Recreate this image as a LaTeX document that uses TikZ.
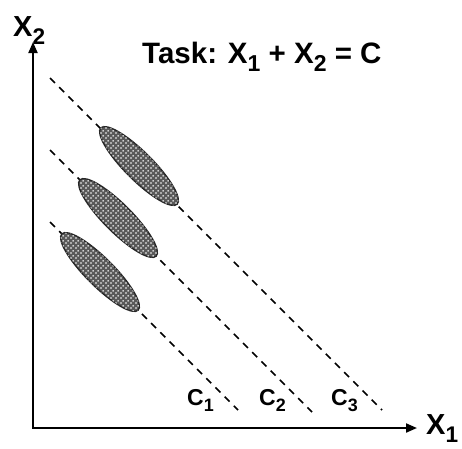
\documentclass[tikz,border=0pt]{standalone}
\usepackage{fontspec}
\setmainfont{Liberation Sans}
\usetikzlibrary{arrows.meta,patterns.meta}
\newcommand{\lowsub}[1]{\raisebox{-.3em}{\scalebox{.78}{#1}}}
\tikzdeclarepattern{name=holes,type=uncolored,
  bounding box={(0pt,0pt) and (5pt,5pt)},tile size={(5pt,5pt)},
  code={\fill (1.25pt,1.25pt) circle [radius=1.05pt];\fill (3.75pt,3.75pt) circle [radius=1.05pt];}}

\begin{document}
\begin{tikzpicture}[x=1pt,y=-1pt,>={Triangle[length=11pt,width=9pt]},
  lbl/.style={font=\bfseries\fontsize{29}{32}\selectfont,inner sep=0,anchor=base west},
  clbl/.style={font=\bfseries\fontsize{23}{26}\selectfont,inner sep=0,anchor=base west},
  iso/.style={line width=1.6pt,dash pattern=on 7pt off 6pt},
  blob/.style={draw=black!85,line width=1.3pt,fill=black!65,postaction={pattern=holes,pattern color=white}}]
\useasboundingbox (0,0) rectangle (462,448);
% axes
\coordinate (o) at (33,428);\coordinate (xtip) at (417,428);\coordinate (ytip) at (33,42);
\draw[<->,line width=2pt] (ytip)--(o)--(xtip);
\node[lbl] (x2) at (13,36){X\lowsub{2}};
\node[lbl] (x1) at (426,434){X\lowsub{1}};
\node[lbl,font=\bfseries\fontsize{29.5}{32}\selectfont] (task) at (142,63){Task: X\lowsub{1} + X\lowsub{2} = C};
% iso-lines
\foreach \i/\y/\x in {1/222/238,2/150/312,3/78/382}{
  \coordinate (s\i) at (50,\y);\coordinate (e\i) at (\x,\y+\x-50);
  \draw[iso] (s\i)--(e\i);}
\node[clbl] (c1) at (187,405){C\lowsub{1}};
\node[clbl] (c2) at (259,405){C\lowsub{2}};
\node[clbl] (c3) at (331,405){C\lowsub{3}};
% response clouds
\foreach \n/\cx/\cy in {1/100/272,2/118/218,3/139/166}{
  \coordinate (m\n) at (\cx,\cy);
  \draw[blob] (m\n) ellipse [x radius=54,y radius=14,rotate=-45];}
\end{tikzpicture}
\end{document}
